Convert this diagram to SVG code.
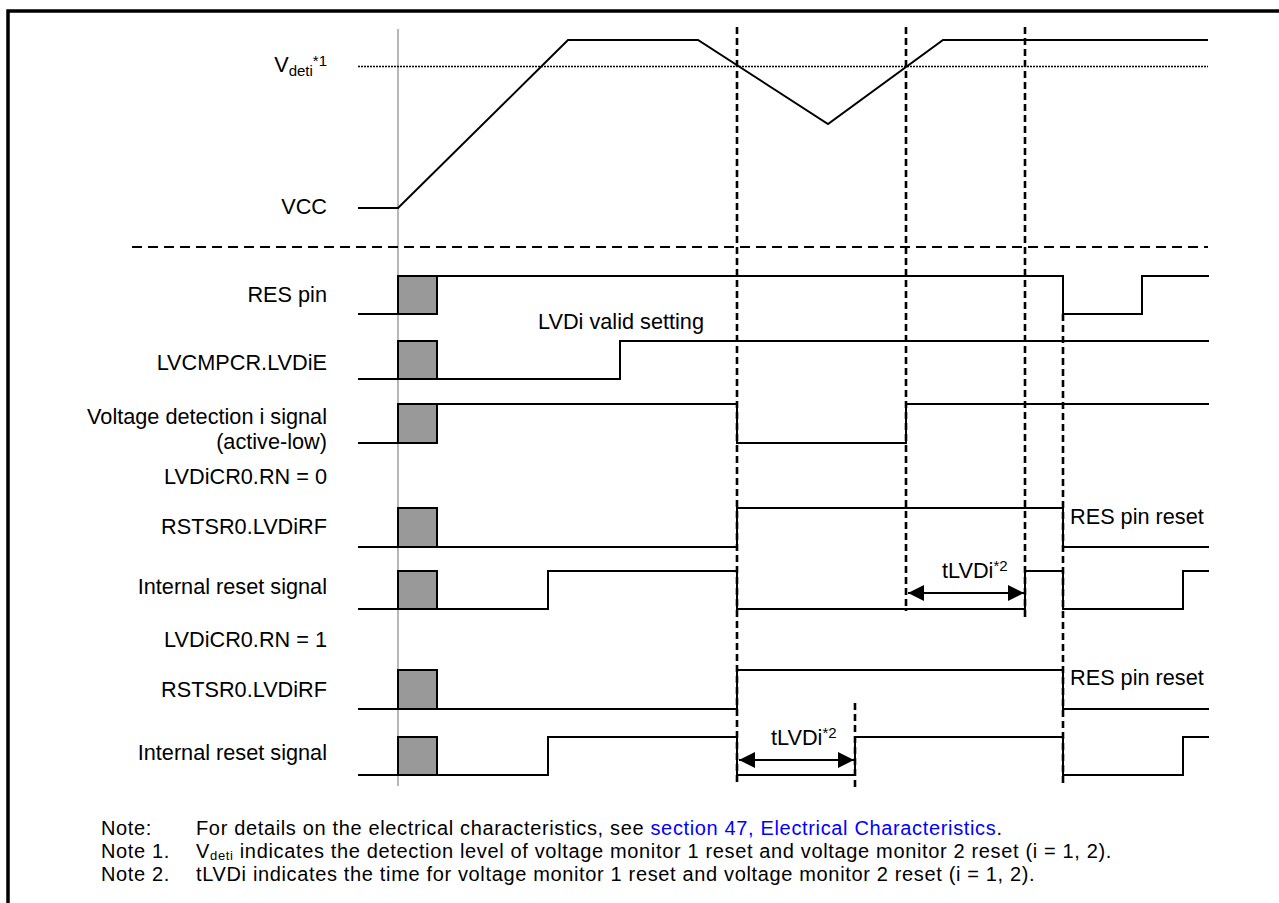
<svg xmlns="http://www.w3.org/2000/svg" width="1279" height="903" viewBox="0 0 1279 903">
<style>
text{font-family:"Liberation Sans",Arial,sans-serif;font-size:21.7px;fill:#000}
.lbl{text-anchor:end}
.note{font-size:20px;letter-spacing:0.65px}
.w{fill:none;stroke:#000;stroke-width:2}
.box{fill:#999;stroke:#000;stroke-width:2}
.dv{fill:none;stroke:#000;stroke-width:2.6;stroke-dasharray:7 4}
.sub{font-size:15px}
.blue{fill:#0000ff}
</style>
<defs>
<marker id="ah" viewBox="0 0 16 16" refX="16" refY="8" markerWidth="16" markerHeight="16" markerUnits="userSpaceOnUse" orient="auto-start-reverse">
<path d="M0,0 L16,8 L0,16 Z" fill="#000"/>
</marker>
</defs>
<rect width="1279" height="903" fill="#fff"/>
<path d="M8,903 V11 H1279" fill="none" stroke="#000" stroke-width="3.5"/>

<g id="axis">
<line x1="398" y1="29" x2="398" y2="786" stroke="#888" stroke-width="1.2"/>
<line x1="358" y1="66.5" x2="1208" y2="66.5" stroke="#000" stroke-width="1.4" stroke-dasharray="2 1"/>
<line x1="132" y1="247" x2="1208" y2="247" stroke="#000" stroke-width="2" stroke-dasharray="10 6"/>
</g>

<g id="vcc">
<text class="lbl" x="327" y="72">V<tspan class="sub" dy="4">deti</tspan><tspan class="sub" dy="-10">*1</tspan></text>
<text class="lbl" x="327" y="214">VCC</text>
<polyline class="w" points="358,208 398,208 568,40 698,40 828,124 943,40 1208,40"/>
</g>

<g id="res-pin">
<text class="lbl" x="327" y="302">RES pin</text>
<polyline class="w" points="358,314 398,314"/>
<rect class="box" x="398" y="276" width="39" height="38"/>
<polyline class="w" points="437,276 1063,276 1063,314 1142,314 1142,276 1209,276"/>
</g>

<g id="lvcmpcr">
<text class="lbl" x="327" y="370">LVCMPCR.LVDiE</text>
<text x="538" y="329">LVDi valid setting</text>
<polyline class="w" points="358,379 398,379"/>
<rect class="box" x="398" y="341" width="39" height="38"/>
<polyline class="w" points="437,379 620,379 620,341 1209,341"/>
</g>

<g id="vdet">
<text class="lbl" x="327" y="424">Voltage detection i signal</text>
<text class="lbl" x="327" y="449">(active-low)</text>
<polyline class="w" points="358,443 398,443"/>
<rect class="box" x="398" y="404" width="39" height="39"/>
<polyline class="w" points="437,404 737,404 737,443 906,443 906,404 1209,404"/>
</g>

<g id="rn0">
<text class="lbl" x="327" y="484">LVDiCR0.RN = 0</text>
</g>

<g id="rstsr0-a">
<text class="lbl" x="327" y="534">RSTSR0.LVDiRF</text>
<text x="1070" y="524">RES pin reset</text>
<polyline class="w" points="358,547 398,547"/>
<rect class="box" x="398" y="508" width="39" height="39"/>
<polyline class="w" points="437,547 737,547 737,508 1063,508 1063,547 1209,547"/>
</g>

<g id="intreset-a">
<text class="lbl" x="327" y="594">Internal reset signal</text>
<polyline class="w" points="358,609 398,609"/>
<rect class="box" x="398" y="571" width="39" height="38"/>
<polyline class="w" points="437,609 548,609 548,571 737,571 737,609 1025,609 1025,571 1063,571 1063,609 1183,609 1183,571 1209,571"/>
<text x="942" y="578">tLVDi<tspan class="sub" dy="-7">*2</tspan></text>
</g>

<g id="rn1">
<text class="lbl" x="327" y="647">LVDiCR0.RN = 1</text>
</g>

<g id="rstsr0-b">
<text class="lbl" x="327" y="697">RSTSR0.LVDiRF</text>
<text x="1070" y="685">RES pin reset</text>
<polyline class="w" points="358,709 398,709"/>
<rect class="box" x="398" y="670" width="39" height="39"/>
<polyline class="w" points="437,709 737,709 737,670 1063,670 1063,709 1209,709"/>
</g>

<g id="intreset-b">
<text class="lbl" x="327" y="760">Internal reset signal</text>
<polyline class="w" points="358,775 398,775"/>
<rect class="box" x="398" y="737" width="39" height="38"/>
<polyline class="w" points="437,775 548,775 548,737 737,737 737,775 855,775 855,737 1063,737 1063,775 1183,775 1183,737 1209,737"/>
<text x="771" y="745">tLVDi<tspan class="sub" dy="-7">*2</tspan></text>
</g>

<g id="connectors">
<line class="dv" x1="737" y1="27" x2="737" y2="785"/>
<line class="dv" x1="906" y1="27" x2="906" y2="611"/>
<line class="dv" x1="1025" y1="27" x2="1025" y2="618"/>
<line class="dv" x1="1063" y1="314" x2="1063" y2="785"/>
<line class="dv" x1="855" y1="703" x2="855" y2="788"/>
<line x1="908" y1="593" x2="1024" y2="593" stroke="#000" stroke-width="2" marker-start="url(#ah)" marker-end="url(#ah)"/>
<line x1="739" y1="760" x2="854" y2="760" stroke="#000" stroke-width="2" marker-start="url(#ah)" marker-end="url(#ah)"/>
</g>

<g id="notes">
<text class="note" x="101" y="835">Note:</text>
<text class="note" x="196" y="835">For details on the electrical characteristics, see <tspan class="blue">section 47, Electrical Characteristics</tspan>.</text>
<text class="note" x="101" y="858">Note 1.</text>
<text class="note" x="196" y="858">V<tspan font-size="13px" dy="2">deti</tspan><tspan dy="-2"> indicates the detection level of voltage monitor 1 reset and voltage monitor 2 reset (i = 1, 2).</tspan></text>
<text class="note" x="101" y="881">Note 2.</text>
<text class="note" x="196" y="881">tLVDi indicates the time for voltage monitor 1 reset and voltage monitor 2 reset (i = 1, 2).</text>
</g>
</svg>
